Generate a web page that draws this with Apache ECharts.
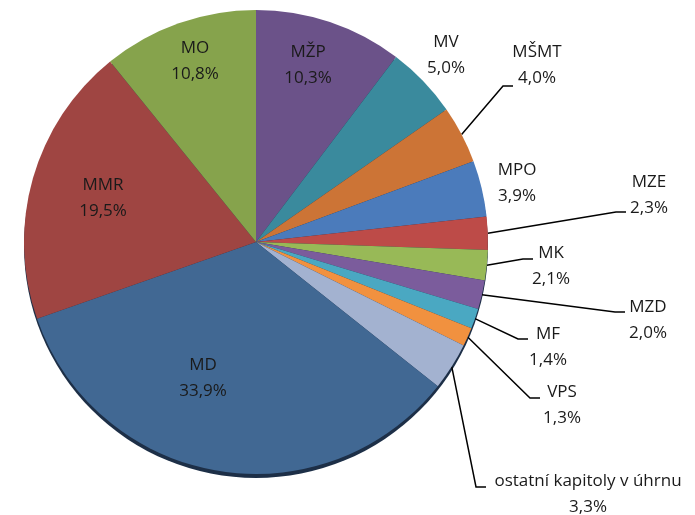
<!DOCTYPE html>
<html lang="cs">
<head>
<meta charset="UTF-8">
<title>Podíl kapitol</title>
<script src="https://cdn.jsdelivr.net/npm/echarts@6/dist/echarts.min.js"></script>
<style>
  html, body { margin: 0; padding: 0; background: #fff; }
  #main { width: 695px; height: 515px; }
</style>
</head>
<body>
<div id="main"></div>
<script type="text/javascript">
// slices clockwise from 12 o'clock
var names = ['MŽP', 'MV', 'MŠMT', 'MPO', 'MZE', 'MK', 'MZD', 'MF', 'VPS',
             'ostatní kapitoly v úhrnu', 'MD', 'MMR', 'MO'];
var shares = [10.3, 5.0, 4.0, 3.9, 2.3, 2.1, 2.0, 1.4, 1.3, 3.3, 33.9, 19.5, 10.8];
var colors = ['#6b5289', '#3a8a9d', '#cc7436', '#4b7bbb', '#bd4b48', '#98b957',
              '#7b5c9c', '#4aa8c2', '#f1913f', '#a3b2d0', '#416893', '#9f4542', '#86a34c'];

// where each label sits (text centre) and where its leader line ends
var labelPos = {
    'MŽP': { x: 308, y: 65, inside: true, line: null },
    'MV': { x: 446, y: 55, line: null },
    'MŠMT': { x: 537, y: 65, line: [513, 86] },
    'MPO': { x: 517, y: 183, line: null },
    'MZE': { x: 649, y: 195, line: [626, 212] },
    'MK': { x: 551, y: 266, line: [533, 259] },
    'MZD': { x: 648, y: 320, line: [625, 312] },
    'MF': { x: 548, y: 347, line: [528, 339] },
    'VPS': { x: 562, y: 405, line: [540, 398] },
    'ostatní kapitoly v úhrnu': { x: 588, y: 494, line: [486, 487] },
    'MD': { x: 203, y: 378, inside: true, line: null },
    'MMR': { x: 103, y: 198, inside: true, line: null },
    'MO': { x: 195, y: 61, inside: true, line: null }
};

function fmt(v) {
    return v.toFixed(1).replace('.', ',') + '%';
}

var pieData = names.map(function (n, i) {
    var lp = labelPos[n];
    return {
        name: n,
        value: shares[i],
        itemStyle: { color: colors[i] },
        label: { position: lp.inside ? 'inside' : 'outside' },
        labelLine: { show: lp.line !== null }
    };
});

var total = shares.reduce(function (a, b) { return a + b; }, 0);

var myChart = echarts.init(document.getElementById('main'));

var option = {
    animation: false,
    backgroundColor: '#ffffff',
    series: [
        {
            // dark rim under the pie
            type: 'pie',
            silent: true,
            center: [256, 246],
            radius: 232,
            label: { show: false },
            labelLine: { show: false },
            data: [{ value: total, itemStyle: { color: '#1d2f47' } }],
            z: 1
        },
        {
            type: 'pie',
            center: [256, 242],
            radius: 232,
            startAngle: 90,
            clockwise: true,
            avoidLabelOverlap: false,
            z: 2,
            itemStyle: { borderWidth: 0 },
            label: {
                show: true,
                fontFamily: 'Open Sans',
                fontSize: 17,
                lineHeight: 26,
                color: '#1a1a1a',
                align: 'center',
                formatter: function (p) {
                    return p.name + '\n' + fmt(p.value);
                }
            },
            labelLine: {
                length: 10,
                length2: 10,
                lineStyle: { color: '#000', width: 1.5 }
            },
            labelLayout: function (params) {
                var lp = labelPos[names[params.dataIndex]];
                var res = { x: lp.x, y: lp.y, align: 'center', verticalAlign: 'middle' };
                if (lp.line && params.labelLinePoints) {
                    var start = params.labelLinePoints[0];
                    res.labelLinePoints = [
                        [start[0], start[1]],
                        [lp.line[0] - 10, lp.line[1]],
                        [lp.line[0], lp.line[1]]
                    ];
                }
                return res;
            },
            data: pieData
        }
    ]
};

myChart.setOption(option);
</script>
</body>
</html>
